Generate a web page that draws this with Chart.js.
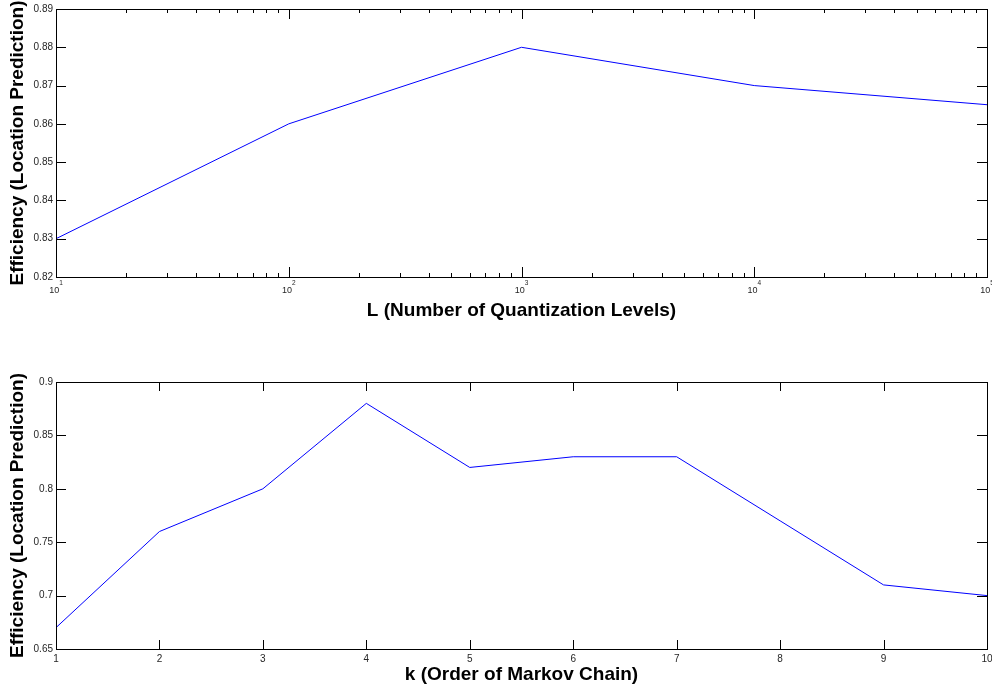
<!DOCTYPE html>
<html>
<head>
<meta charset="utf-8">
<script src="https://cdn.jsdelivr.net/npm/chart.js@4.4.0/dist/chart.umd.min.js"></script>
<style>
  body { margin: 0; background: #fff; }
  canvas { display: block; }
</style>
</head>
<body>
<canvas id="chartL" width="992" height="345"></canvas>
<canvas id="chartK" width="992" height="345"></canvas>
<script>
// data
const levels = [10, 100, 1000, 10000, 100000];
const effByLevel = [0.83, 0.86, 0.88, 0.87, 0.865];
const orders = [1, 2, 3, 4, 5, 6, 7, 8, 9, 10];
const effByOrder = [0.67, 0.76, 0.80, 0.88, 0.82, 0.83, 0.83, 0.77, 0.71, 0.70];
const levelExponents = ['1', '2', '3', '4', '5'];

const FONT = '"Liberation Sans", Arial, sans-serif';
const TICK_COLOR = '#262626';

function fmtTick(v) {
    return String(Number(v.toFixed(2)));
}

// matlab-like box with inward ticks on all sides
const boxAxes = {
    id: 'boxAxes',
    afterDraw(chart) {
        const ctx = chart.ctx;
        const a = chart.chartArea;
        const x = chart.scales.x;
        const y = chart.scales.y;
        const isLog = x.type === 'logarithmic';

        ctx.save();
        ctx.strokeStyle = '#000';
        ctx.lineWidth = 1;
        ctx.beginPath();

        for (const t of y.ticks) {
            const py = Math.round(y.getPixelForValue(t.value)) + 0.5;
            ctx.moveTo(a.left, py); ctx.lineTo(a.left + 10, py);
            ctx.moveTo(a.right, py); ctx.lineTo(a.right - 10, py);
        }

        let xMarks = [];
        if (isLog) {
            levels.forEach((d, i) => {
                xMarks.push([d, 10]);
                if (i < levels.length - 1) {
                    for (let m = 2; m <= 9; m++) xMarks.push([d * m, 4]);
                }
            });
        } else {
            xMarks = x.ticks.map(t => [t.value, 9]);
        }
        for (const [v, len] of xMarks) {
            const px = Math.round(x.getPixelForValue(v)) + 0.5;
            ctx.moveTo(px, a.bottom); ctx.lineTo(px, a.bottom - len);
            ctx.moveTo(px, a.top); ctx.lineTo(px, a.top + len);
        }
        ctx.stroke();

        ctx.strokeRect(Math.round(a.left) + 0.5, Math.round(a.top) + 0.5,
                       Math.round(a.right - a.left), Math.round(a.bottom - a.top));

        // 10^n labels for the log axis
        if (isLog) {
            ctx.fillStyle = TICK_COLOR;
            ctx.textBaseline = 'alphabetic';
            ctx.textAlign = 'left';
            levels.forEach((d, i) => {
                const px = x.getPixelForValue(d);
                ctx.font = '9px ' + FONT;
                const wBase = ctx.measureText('10').width;
                ctx.font = '6.5px ' + FONT;
                const wExp = ctx.measureText(levelExponents[i]).width;
                const start = px - (wBase + wExp) / 2;
                ctx.font = '9px ' + FONT;
                ctx.fillText('10', start, a.bottom + 16);
                ctx.font = '6.5px ' + FONT;
                ctx.fillText(levelExponents[i], start + wBase, a.bottom + 8);
            });
        }
        ctx.restore();
    }
};

function yScale(min, max, step, title) {
    return {
        type: 'linear',
        min: min,
        max: max,
        grid: { display: false, drawTicks: false },
        border: { display: false },
        ticks: {
            stepSize: step,
            padding: 3,
            color: TICK_COLOR,
            font: { family: FONT, size: 10 },
            callback: fmtTick
        },
        title: {
            display: true,
            text: title,
            color: '#000',
            font: { family: FONT, size: 19, weight: 'bold' },
            padding: { top: 6, bottom: 0 }
        },
        afterFit(s) {
            s.width = 56;
            s.paddingTop = 0;
            s.paddingBottom = 0;
        }
    };
}

const lineStyle = {
    borderColor: '#0000ff',
    borderWidth: 1,
    pointRadius: 0,
    tension: 0,
    fill: false
};

new Chart(document.getElementById('chartL'), {
    type: 'line',
    data: {
        datasets: [Object.assign({
            data: levels.map((v, i) => ({ x: v, y: effByLevel[i] }))
        }, lineStyle)]
    },
    options: {
        responsive: false,
        animation: false,
        devicePixelRatio: 1,
        layout: { padding: { top: 9, right: 5, left: 0, bottom: 0 } },
        plugins: { legend: { display: false }, tooltip: { enabled: false } },
        scales: {
            x: {
                type: 'logarithmic',
                min: 10,
                max: 100000,
                grid: { display: false, drawTicks: false },
                border: { display: false },
                ticks: { display: false },
                title: {
                    display: true,
                    text: 'L (Number of Quantization Levels)',
                    color: '#000',
                    font: { family: FONT, size: 19, weight: 'bold' },
                    padding: { top: 0, bottom: 23 }
                },
                afterFit(s) {
                    s.height = 68;
                    s.paddingLeft = 0;
                    s.paddingRight = 0;
                }
            },
            y: yScale(0.82, 0.89, 0.01, 'Efficiency (Location Prediction)')
        }
    },
    plugins: [boxAxes]
});

new Chart(document.getElementById('chartK'), {
    type: 'line',
    data: {
        datasets: [Object.assign({
            data: orders.map((v, i) => ({ x: v, y: effByOrder[i] }))
        }, lineStyle)]
    },
    options: {
        responsive: false,
        animation: false,
        devicePixelRatio: 1,
        layout: { padding: { top: 37, right: 5, left: 0, bottom: 0 } },
        plugins: { legend: { display: false }, tooltip: { enabled: false } },
        scales: {
            x: {
                type: 'linear',
                min: 1,
                max: 10,
                grid: { display: false, drawTicks: false },
                border: { display: false },
                ticks: {
                    stepSize: 1,
                    padding: 4,
                    maxRotation: 0,
                    color: TICK_COLOR,
                    font: { family: FONT, size: 10 }
                },
                title: {
                    display: true,
                    text: 'k (Order of Markov Chain)',
                    color: '#000',
                    font: { family: FONT, size: 19, weight: 'bold' },
                    padding: { top: 0, bottom: 4 }
                },
                afterFit(s) {
                    s.height = 41;
                    s.paddingLeft = 0;
                    s.paddingRight = 0;
                }
            },
            y: yScale(0.65, 0.9, 0.05, 'Efficiency (Location Prediction)')
        }
    },
    plugins: [boxAxes]
});
</script>
</body>
</html>
